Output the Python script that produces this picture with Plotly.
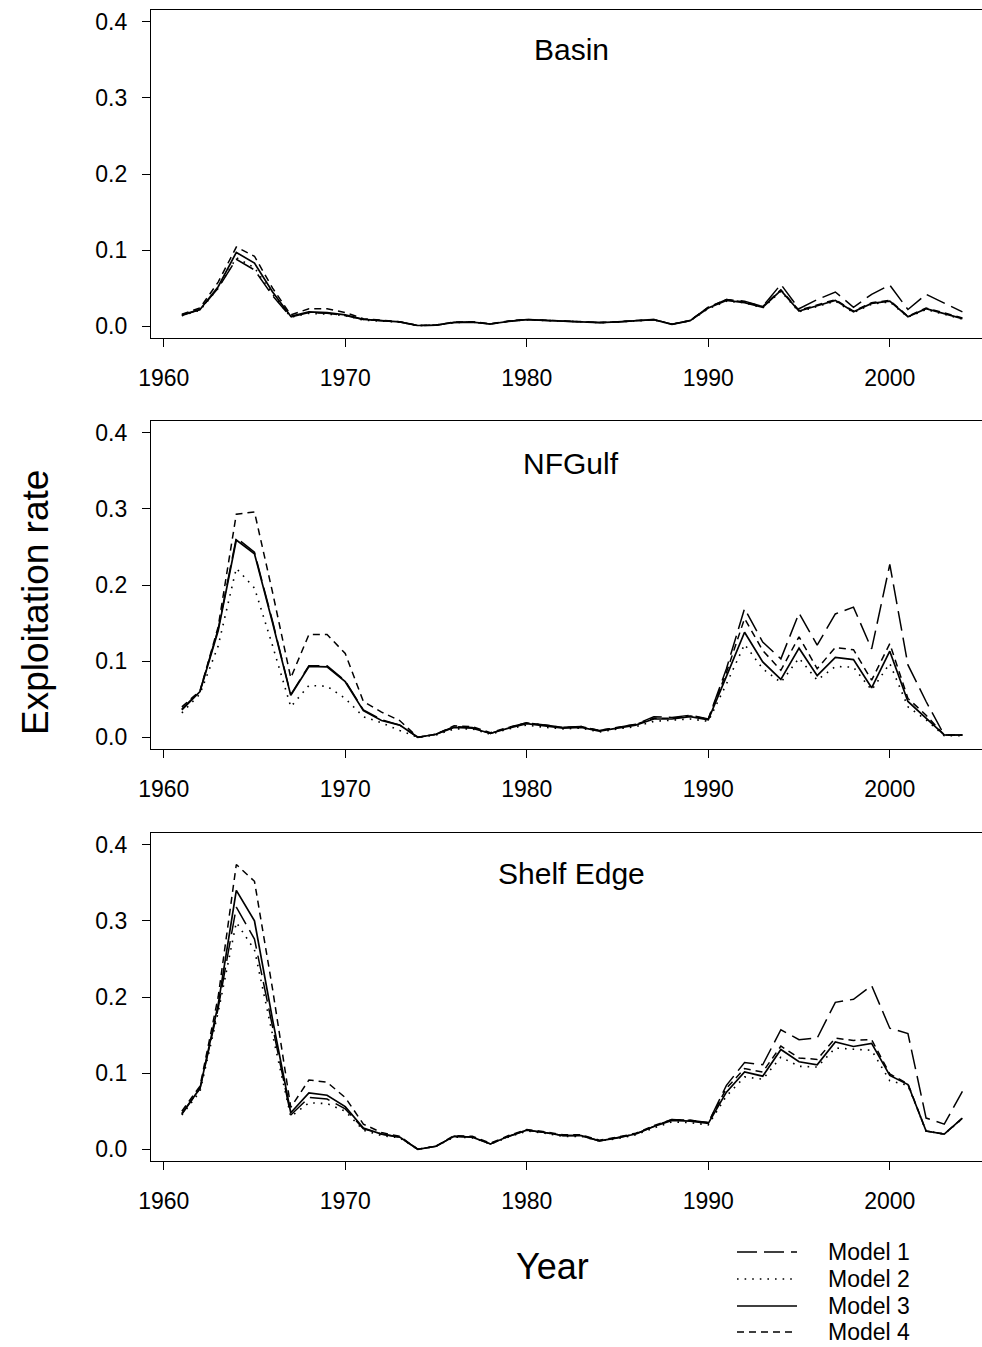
import plotly.graph_objects as go

W, H = 982, 1347

years = list(range(1961, 2005))

# ---------------- Basin ----------------
basin_m1 = [0.014,0.022,0.050,0.088,0.074,0.040,0.012,0.018,0.017,0.014,0.009,0.0075,0.0057,0.001,0.0015,0.005,0.0055,0.003,0.0065,0.0087,0.0075,0.007,0.006,0.0048,0.0057,0.007,0.0087,0.0026,0.0074,0.025,0.035,0.033,0.026,0.055,0.023,0.035,0.045,0.025,0.042,0.054,0.022,0.042,0.031,0.019]
basin_m2 = [0.014,0.021,0.050,0.090,0.077,0.042,0.012,0.017,0.016,0.014,0.008,0.007,0.0055,0.001,0.0015,0.005,0.0055,0.003,0.0065,0.0085,0.0073,0.0068,0.006,0.0047,0.0056,0.007,0.0085,0.0026,0.0073,0.023,0.033,0.031,0.024,0.046,0.019,0.026,0.033,0.018,0.029,0.032,0.012,0.022,0.016,0.0095]
basin_m3 = [0.015,0.022,0.052,0.097,0.083,0.045,0.013,0.019,0.018,0.015,0.009,0.0075,0.0057,0.001,0.0015,0.005,0.0055,0.003,0.0065,0.0087,0.0075,0.007,0.006,0.0048,0.0057,0.007,0.0087,0.0026,0.0074,0.024,0.034,0.031,0.025,0.047,0.020,0.027,0.034,0.019,0.030,0.033,0.0126,0.023,0.0165,0.010]
basin_m4 = [0.016,0.024,0.058,0.104,0.092,0.050,0.015,0.023,0.023,0.018,0.010,0.008,0.006,0.001,0.0017,0.0055,0.006,0.0032,0.007,0.009,0.008,0.0072,0.0062,0.005,0.006,0.0072,0.009,0.0028,0.0076,0.025,0.035,0.032,0.026,0.048,0.021,0.028,0.035,0.020,0.031,0.034,0.013,0.024,0.017,0.011]

# ---------------- NFGulf ----------------
nfg_m1 = [0.037,0.061,0.142,0.262,0.243,0.152,0.056,0.094,0.094,0.074,0.036,0.023,0.016,0.0,0.004,0.014,0.013,0.005,0.013,0.019,0.016,0.013,0.014,0.009,0.013,0.017,0.027,0.026,0.029,0.024,0.090,0.169,0.125,0.103,0.163,0.121,0.162,0.171,0.116,0.227,0.095,0.047,0.003,0.003]
nfg_m2 = [0.032,0.057,0.120,0.222,0.196,0.120,0.040,0.068,0.067,0.051,0.027,0.019,0.009,0.0,0.003,0.011,0.011,0.004,0.011,0.016,0.013,0.011,0.012,0.007,0.011,0.014,0.021,0.022,0.024,0.021,0.070,0.122,0.090,0.072,0.104,0.075,0.093,0.092,0.062,0.097,0.040,0.023,0.002,0.002]
nfg_m3 = [0.036,0.060,0.140,0.259,0.241,0.150,0.055,0.093,0.0925,0.073,0.035,0.022,0.016,0.0,0.004,0.013,0.012,0.005,0.012,0.018,0.015,0.012,0.013,0.008,0.012,0.016,0.024,0.024,0.027,0.023,0.080,0.138,0.099,0.076,0.117,0.081,0.105,0.102,0.065,0.113,0.047,0.025,0.003,0.003]
nfg_m4 = [0.040,0.061,0.145,0.293,0.296,0.190,0.078,0.135,0.135,0.110,0.047,0.033,0.022,0.0,0.004,0.015,0.014,0.006,0.013,0.019,0.016,0.013,0.014,0.009,0.013,0.017,0.025,0.025,0.028,0.024,0.085,0.156,0.114,0.088,0.132,0.090,0.118,0.115,0.075,0.123,0.051,0.029,0.003,0.003]

# ---------------- Shelf Edge ----------------
shelf_m1 = [0.046,0.080,0.185,0.318,0.276,0.160,0.045,0.068,0.066,0.053,0.027,0.020,0.016,0.0,0.004,0.017,0.016,0.007,0.017,0.025,0.022,0.018,0.018,0.011,0.015,0.020,0.030,0.039,0.038,0.035,0.084,0.114,0.111,0.157,0.144,0.146,0.193,0.197,0.215,0.159,0.152,0.041,0.033,0.076]
shelf_m2 = [0.045,0.076,0.180,0.298,0.262,0.150,0.043,0.061,0.060,0.050,0.025,0.018,0.015,0.0,0.004,0.016,0.015,0.007,0.016,0.024,0.021,0.017,0.017,0.011,0.014,0.019,0.028,0.036,0.035,0.032,0.070,0.095,0.092,0.121,0.109,0.108,0.133,0.131,0.130,0.090,0.084,0.024,0.020,0.040]
shelf_m3 = [0.047,0.080,0.190,0.340,0.300,0.170,0.048,0.074,0.071,0.056,0.028,0.020,0.016,0.0,0.004,0.017,0.016,0.007,0.017,0.025,0.022,0.018,0.018,0.011,0.015,0.020,0.030,0.038,0.037,0.034,0.075,0.1015,0.096,0.131,0.115,0.111,0.141,0.135,0.139,0.097,0.085,0.024,0.020,0.041]
shelf_m4 = [0.050,0.083,0.200,0.374,0.352,0.210,0.055,0.091,0.088,0.068,0.033,0.022,0.017,0.0,0.004,0.018,0.017,0.008,0.018,0.026,0.023,0.019,0.019,0.012,0.016,0.021,0.031,0.039,0.038,0.035,0.080,0.106,0.1015,0.1355,0.120,0.118,0.146,0.143,0.144,0.099,0.086,0.024,0.020,0.041]

panel_names = ["Basin", "NFGulf", "Shelf Edge"]
model_names = ["Model 1", "Model 2", "Model 3", "Model 4"]
x_tick_vals = [1960, 1970, 1980, 1990, 2000]
y_tick_vals = [0.0, 0.1, 0.2, 0.3, 0.4]

panels = [
    [basin_m1, basin_m2, basin_m3, basin_m4],
    [nfg_m1, nfg_m2, nfg_m3, nfg_m4],
    [shelf_m1, shelf_m2, shelf_m3, shelf_m4],
]

dashes = ["20px,7px", "1.6px,6px", "solid", "7px,5px"]
widths = [1.5, 1.6, 1.7, 1.5]

FONT = "Liberation Sans, Arial, Helvetica, sans-serif"

fig = go.Figure()

# panel frames in pixel rows (top, bottom)
frames = [(10, 338), (421, 749), (833, 1161)]

for p, series in enumerate(panels):
    suffix = "" if p == 0 else str(p + 1)
    for m, vals in enumerate(series):
        fig.add_trace(go.Scatter(
            x=years, y=vals, mode="lines",
            line=dict(color="black", width=widths[m], dash=dashes[m]),
            name=model_names[m], showlegend=False,
            xaxis="x" + suffix, yaxis="y" + suffix,
        ))

layout = dict(
    width=W, height=H,
    margin=dict(l=0, r=0, t=0, b=0),
    paper_bgcolor="white", plot_bgcolor="white",
    font=dict(family=FONT, color="black"),
    showlegend=False,
)

xd = [151 / W, 1.0]
for p, (top, bot) in enumerate(frames):
    suffix = "" if p == 0 else str(p + 1)
    layout["xaxis" + suffix] = dict(
        domain=xd, anchor="y" + suffix,
        range=[1959.3, 2005.08],
        tickvals=x_tick_vals, ticktext=[str(v) for v in x_tick_vals],
        ticks="outside", ticklen=8, tickwidth=1.3, tickcolor="black",
        showline=True, linecolor="black", linewidth=1.3, mirror=True,
        showgrid=False, zeroline=False, automargin=False,
        tickfont=dict(size=23, family=FONT, color="black"),
        ticklabelstandoff=11,
    )
    layout["yaxis" + suffix] = dict(
        domain=[1 - bot / H, 1 - top / H], anchor="x" + suffix,
        range=[-0.0154, 0.4154],
        tickvals=y_tick_vals, tickformat=".1f",
        ticks="outside", ticklen=8, tickwidth=1.3, tickcolor="black",
        showline=True, linecolor="black", linewidth=1.3, mirror=False,
        showgrid=False, zeroline=False, automargin=False,
        tickfont=dict(size=23, family=FONT, color="black"),
        ticklabelstandoff=10,
    )

annotations = []
title_y = [50, 463, 873]
for name, ty in zip(panel_names, title_y):
    annotations.append(dict(
        text=name, x=571 / W, y=1 - ty / H, xref="paper", yref="paper",
        xanchor="center", yanchor="middle", showarrow=False,
        font=dict(size=30, family=FONT, color="black"),
    ))

annotations.append(dict(
    text="Year", x=552 / W, y=1 - 1266 / H, xref="paper", yref="paper",
    xanchor="center", yanchor="middle", showarrow=False,
    font=dict(size=36, family=FONT, color="black"),
))
annotations.append(dict(
    text="Exploitation rate", x=35 / W, y=1 - 603 / H, xref="paper", yref="paper",
    xanchor="center", yanchor="middle", showarrow=False, textangle=-90,
    font=dict(size=37, family=FONT, color="black"),
))

# legend (custom, R-style)
shapes = []
legend_rows = [1252, 1279, 1306, 1332]
for m, ry in enumerate(legend_rows):
    shapes.append(dict(
        type="line", xref="paper", yref="paper",
        x0=737 / W, x1=797 / W, y0=1 - ry / H, y1=1 - ry / H,
        line=dict(color="black", width=widths[m], dash=dashes[m]),
    ))
    annotations.append(dict(
        text=model_names[m], x=826 / W, y=1 - ry / H, xref="paper", yref="paper",
        xanchor="left", yanchor="middle", showarrow=False,
        font=dict(size=23, family=FONT, color="black"),
    ))

layout["annotations"] = annotations
layout["shapes"] = shapes
fig.update_layout(**layout)

fig.write_html(
    "out.html",
    config={"displayModeBar": False},
    post_script="document.body.style.margin='0';document.body.style.padding='0';document.body.style.overflow='hidden';",
)
